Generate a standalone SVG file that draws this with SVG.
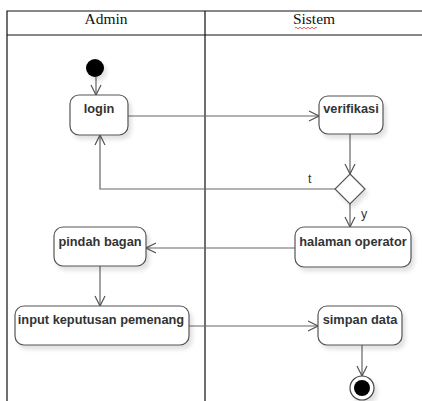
<svg xmlns="http://www.w3.org/2000/svg" width="422" height="401" viewBox="0 0 422 401">
  <style>
    .lane { fill: none; stroke: #111; stroke-width: 1.2; }
    .hdr { font-family: "Liberation Serif", serif; font-size: 15.5px; fill: #111; text-anchor: middle; }
    .box { fill: #fff; stroke: #555; stroke-width: 1.2; filter: url(#sh); }
    .lbl { font-family: "Liberation Sans", Arial, sans-serif; font-size: 12.8px; font-weight: bold; fill: #333; text-anchor: middle; }
    .edge { fill: none; stroke: #666; stroke-width: 1.2; marker-end: url(#open); }
    .guard { font-family: "Liberation Sans", Arial, sans-serif; font-size: 12.5px; fill: #333; }
  </style>
  <defs>
    <filter id="sh" x="-20%" y="-20%" width="150%" height="160%">
      <feGaussianBlur in="SourceAlpha" stdDeviation="2"/>
      <feOffset dx="3" dy="4" result="b"/>
      <feComponentTransfer><feFuncA type="linear" slope="0.12"/></feComponentTransfer>
      <feMerge><feMergeNode/><feMergeNode in="SourceGraphic"/></feMerge>
    </filter>
    <marker id="open" viewBox="0 0 12 12" refX="11" refY="6" markerWidth="12" markerHeight="12" markerUnits="userSpaceOnUse" orient="auto">
      <path d="M1,1 L11,6 L1,11" fill="none" stroke="#555" stroke-width="1.2"/>
    </marker>
  </defs>

  <rect width="422" height="401" fill="#fff"/>

  <!-- swimlane table -->
  <g id="lanes">
    <path class="lane" d="M7,401 V11 H422 M7,35 H422 M205,11 V401"/>
    <text class="hdr" x="106" y="24">Admin</text>
    <text class="hdr" x="314" y="24">Sistem</text>
    <path d="M295,28 q1,-1.5 2,0 t2,0 t2,0 t2,0 t2,0 t2,0 t2,0 t2,0 t2,0 t2,0 t2,0" fill="none" stroke="#e03030" stroke-width="0.8"/>
  </g>

  <!-- connectors -->
  <g id="connectors">
    <path class="edge" d="M96,77 V95"/>
    <path class="edge" d="M128,116 H319"/>
    <path class="edge" d="M350,134 V174"/>
    <path class="edge" d="M335,189 H100 V135"/>
    <path class="edge" d="M350,204 V227"/>
    <path class="edge" d="M295,248 H146"/>
    <path class="edge" d="M100,266 V306"/>
    <path class="edge" d="M189,326 H318"/>
    <path class="edge" d="M362,345 V376"/>
    <text class="guard" x="308" y="183">t</text>
    <text class="guard" x="361" y="218">y</text>
  </g>

  <g id="start">
    <circle cx="95" cy="68" r="9" fill="#000" filter="url(#sh)"/>
  </g>

  <g id="login">
    <rect class="box" x="70" y="95" width="58" height="40" rx="9"/>
    <text class="lbl" x="99" y="113">login</text>
  </g>

  <g id="verifikasi">
    <rect class="box" x="319" y="96" width="64" height="38" rx="9"/>
    <text class="lbl" x="351" y="113">verifikasi</text>
  </g>

  <g id="decision">
    <path d="M350,174 L365,189 L350,204 L335,189 Z" fill="#fff" stroke="#555" stroke-width="1.2" filter="url(#sh)"/>
  </g>

  <g id="halaman-operator">
    <rect class="box" x="295" y="227" width="116" height="40" rx="9"/>
    <text class="lbl" x="353" y="246">halaman operator</text>
  </g>

  <g id="pindah-bagan">
    <rect class="box" x="54" y="227" width="92" height="39" rx="9"/>
    <text class="lbl" x="100" y="246">pindah bagan</text>
  </g>

  <g id="input-keputusan">
    <rect class="box" x="15" y="306" width="174" height="39" rx="9"/>
    <text class="lbl" x="101" y="324">input keputusan pemenang</text>
  </g>

  <g id="simpan-data">
    <rect class="box" x="318" y="306" width="84" height="39" rx="9"/>
    <text class="lbl" x="360" y="324">simpan data</text>
  </g>

  <g id="end">
    <circle cx="362" cy="388" r="12" fill="#fff" stroke="#444" stroke-width="1.2" filter="url(#sh)"/>
    <circle cx="362" cy="388" r="8" fill="#000"/>
  </g>
</svg>
